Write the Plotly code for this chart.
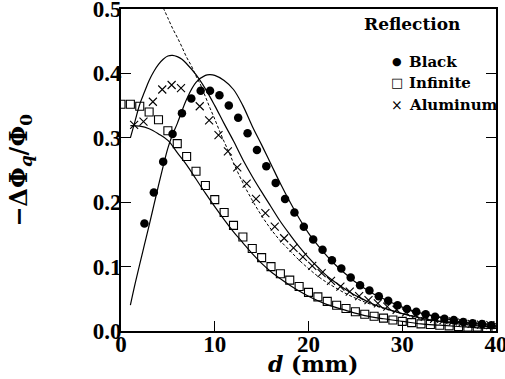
import plotly.graph_objects as go

# ---- data ----
black_x = [2.5, 3.5, 4.5, 5.5, 6.5, 7.5, 8.5, 9.5, 10.5, 11.5, 12.5, 13.5, 14.5, 15.5, 16.5,
           17.5, 18.5, 19.5, 20.5, 21.5, 22.5, 23.5, 24.5, 25.5, 26.5, 27.5, 28.5, 29.5, 30.5,
           31.5, 32.5, 33.5, 34.5, 35.5, 36.5, 37.5, 38.5, 39.5]
black_y = [0.167, 0.215, 0.263, 0.306, 0.338, 0.361, 0.373, 0.373, 0.366, 0.350, 0.331, 0.307,
           0.281, 0.256, 0.230, 0.205, 0.184, 0.162, 0.142, 0.126, 0.110, 0.097, 0.083, 0.071,
           0.063, 0.054, 0.047, 0.040, 0.034, 0.030, 0.026, 0.022, 0.019, 0.017, 0.014, 0.012,
           0.011, 0.009]

inf_x = list(range(0, 41))
inf_y = [0.352, 0.352, 0.349, 0.340, 0.328, 0.311, 0.291, 0.271, 0.248, 0.226, 0.204, 0.184,
         0.164, 0.146, 0.128, 0.114, 0.100, 0.089, 0.079, 0.069, 0.060, 0.053, 0.046, 0.040,
         0.035, 0.030, 0.026, 0.023, 0.020, 0.017, 0.015, 0.013, 0.011, 0.010, 0.009, 0.008,
         0.007, 0.006, 0.006, 0.005, 0.005]

al_x = [1.4, 2.4, 3.4, 4.4, 5.4, 6.4, 8.4, 9.4, 10.4, 11.4, 12.4, 13.4, 14.4, 15.4, 16.4, 17.4,
        18.4, 19.4, 20.4, 21.4, 22.4, 23.4, 24.4, 25.4, 26.4, 27.4, 28.4, 29.4, 30.4, 31.4,
        32.4, 33.4, 34.4, 35.4, 36.4, 37.4, 38.4, 39.4]
al_y = [0.320, 0.325, 0.356, 0.375, 0.382, 0.377, 0.349, 0.327, 0.304, 0.279, 0.254, 0.229,
        0.205, 0.183, 0.162, 0.144, 0.129, 0.115, 0.101, 0.090, 0.078, 0.069, 0.061, 0.054,
        0.048, 0.043, 0.038, 0.033, 0.029, 0.025, 0.022, 0.019, 0.017, 0.015, 0.013, 0.011,
        0.010, 0.009]

# theory curves
black_fit_x = [1.0, 1.5, 2, 2.5, 3, 3.5, 4, 4.5, 5, 5.5, 6, 7, 8, 9, 9.5, 10, 11, 12, 13, 14, 15,
               16, 17, 18, 19, 20, 21, 22, 23, 24, 25, 26, 27, 28, 30, 32, 34, 36, 38, 40]
black_fit_y = [0.040, 0.073, 0.104, 0.134, 0.164, 0.195, 0.226, 0.256, 0.284, 0.305, 0.322,
               0.360, 0.386, 0.397, 0.398, 0.397, 0.389, 0.375, 0.350, 0.318, 0.289, 0.259,
               0.229, 0.201, 0.175, 0.152, 0.133, 0.116, 0.101, 0.088, 0.076, 0.066, 0.057,
               0.050, 0.037, 0.028, 0.021, 0.015, 0.011, 0.008]

al_fit_x = [1.0, 1.5, 2, 2.5, 3, 3.5, 4, 4.5, 5, 5.5, 6, 6.5, 7, 8, 9, 10, 11, 12, 13, 14, 15,
            16, 17, 18, 19, 20, 21, 22, 23, 24, 25, 26, 27, 28, 30, 32, 34, 36, 38, 40]
al_fit_y = [0.300, 0.326, 0.352, 0.371, 0.389, 0.403, 0.414, 0.422, 0.427, 0.428, 0.426, 0.422,
            0.415, 0.398, 0.376, 0.350, 0.322, 0.295, 0.266, 0.240, 0.216, 0.193, 0.170,
            0.150, 0.131, 0.114, 0.099, 0.085, 0.074, 0.064, 0.055, 0.048, 0.041, 0.036,
            0.027, 0.020, 0.015, 0.011, 0.008, 0.006]

inf_fit_x = [1.0, 2, 3, 4, 5, 6, 7, 8, 9, 10, 11, 12, 13, 14, 15, 16, 17, 18, 19, 20, 22, 24,
             26, 28, 30, 32, 34, 36, 38, 40]
inf_fit_y = [0.319, 0.318, 0.314, 0.306, 0.296, 0.277, 0.258, 0.236, 0.214, 0.193, 0.173,
             0.154, 0.137, 0.120, 0.105, 0.092, 0.081, 0.071, 0.062, 0.054, 0.041, 0.032,
             0.024, 0.019, 0.015, 0.011, 0.009, 0.007, 0.005, 0.004]

dash_x = [4.5, 5, 5.5, 6, 6.5, 7, 7.5, 8, 8.5, 9, 9.5, 10, 10.5, 11, 11.5, 12, 13, 14, 15, 16,
          17, 18, 19, 20, 21, 22, 24, 26, 28, 30, 32, 34, 36, 38, 40]
dash_y = [0.502, 0.486, 0.470, 0.456, 0.441, 0.425, 0.412, 0.396, 0.382, 0.364, 0.346, 0.329,
          0.311, 0.294, 0.278, 0.261, 0.230, 0.203, 0.179, 0.158, 0.140, 0.125, 0.110, 0.097,
          0.085, 0.075, 0.058, 0.045, 0.035, 0.027, 0.021, 0.016, 0.012, 0.009, 0.007]

x_ticks = [0, 10, 20, 30, 40]
y_ticks = [0.0, 0.1, 0.2, 0.3, 0.4, 0.5]

legend_names = ["Black", "Infinite", "Aluminum"]
legend_symbols = ["●", "□", "×"]

FONT = "DejaVu Serif"
TICK_FONT = "Liberation Serif"

fig = go.Figure()

line_style = dict(color="black", width=1.2)
fig.add_trace(go.Scatter(x=black_fit_x, y=black_fit_y, mode="lines", line=line_style,
                         showlegend=False, line_shape="spline"))
fig.add_trace(go.Scatter(x=al_fit_x, y=al_fit_y, mode="lines", line=line_style,
                         showlegend=False, line_shape="spline"))
fig.add_trace(go.Scatter(x=inf_fit_x, y=inf_fit_y, mode="lines", line=line_style,
                         showlegend=False, line_shape="spline"))
fig.add_trace(go.Scatter(x=dash_x, y=dash_y, mode="lines",
                         line=dict(color="black", width=1, dash="3px,2px"),
                         showlegend=False, line_shape="spline"))

fig.add_trace(go.Scatter(x=black_x, y=black_y, mode="markers", name=legend_names[0],
                         showlegend=False,
                         marker=dict(symbol="circle", size=8.5, color="black")))
fig.add_trace(go.Scatter(x=inf_x, y=inf_y, mode="markers", name=legend_names[1],
                         showlegend=False,
                         marker=dict(symbol="square-open", size=8, color="black",
                                     line=dict(width=1.1))))
fig.add_trace(go.Scatter(x=al_x, y=al_y, mode="markers", name=legend_names[2],
                         showlegend=False,
                         marker=dict(symbol="x-thin-open", size=8, color="black",
                                     line=dict(width=1.1, color="black"))))

axis_common = dict(showgrid=False, zeroline=False, showline=True, linecolor="black",
                   linewidth=1.8, ticks="inside", ticklen=10, tickwidth=1.2,
                   tickcolor="black", automargin=False, ticklabeloverflow="allow",
                   tickfont=dict(family=TICK_FONT, size=23, color="black", weight="bold"))

fig.update_xaxes(range=[0, 40], tickvals=x_ticks, ticktext=[str(v) for v in x_ticks],
                 mirror=True, ticklabelstandoff=-9, **axis_common)
fig.update_yaxes(range=[0, 0.5], tickvals=y_ticks, ticktext=[f"{v:.1f}" for v in y_ticks],
                 mirror="ticks", ticklabelstandoff=-7, **axis_common)

annotations = [
    dict(text="<b>Reflection</b>", xref="paper", yref="paper", x=0.909, y=0.99,
         xanchor="right", yanchor="top", showarrow=False,
         font=dict(family=FONT, size=17, color="black")),
    dict(text="<b><i>d</i> (mm)</b>", xref="paper", yref="paper", x=0.512, y=-0.104,
         xanchor="center", yanchor="middle", showarrow=False,
         font=dict(family=FONT, size=22, color="black")),
    dict(text="<b>−ΔΦ<sub><i>q</i></sub>/Φ<sub>0</sub></b>", xref="paper", yref="paper",
         x=-0.27, y=0.50, xanchor="center", yanchor="middle", textangle=-90,
         showarrow=False, font=dict(family=FONT, size=24, color="black")),
]
leg_y = [0.836, 0.771, 0.703]
sym_sizes = [11, 13, 14]
for name, sym, yy, ss in zip(legend_names, legend_symbols, leg_y, sym_sizes):
    annotations.append(dict(text=sym, xref="paper", yref="paper", x=0.737, y=yy,
                            xanchor="center", yanchor="middle", showarrow=False,
                            font=dict(family=FONT, size=ss, color="black")))
    annotations.append(dict(text=f"<b>{name}</b>", xref="paper", yref="paper", x=0.762, y=yy,
                            xanchor="left", yanchor="middle", showarrow=False,
                            font=dict(family=FONT, size=15, color="black")))

fig.update_layout(
    width=505, height=379,
    margin=dict(l=121, r=9, t=9, b=48),
    paper_bgcolor="white", plot_bgcolor="white",
    font=dict(family=FONT, color="black"),
    showlegend=False,
    annotations=annotations,
)

fig.write_html("out.html", config={"displayModeBar": False},
               post_script="document.body.style.margin='0';document.body.style.padding='0';")
